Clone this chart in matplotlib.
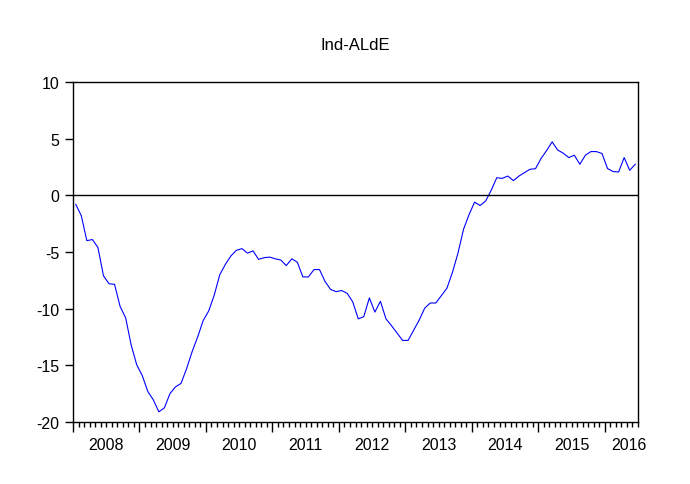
import matplotlib
matplotlib.use("Agg")
import matplotlib.pyplot as plt
import matplotlib.transforms as mtransforms
import numpy as np

plt.rcParams['font.family'] = ['Liberation Sans', 'DejaVu Sans']

# monthly series, Jan 2008 - Jun 2016
start_year = 2008
values = [
    -0.8, -1.8, -4.0, -3.9, -4.6, -7.1, -7.8, -7.85, -9.8, -10.8, -13.2, -14.95,
    -15.9, -17.3, -18.05, -19.1, -18.75, -17.5, -16.9, -16.6, -15.3, -13.8, -12.5, -11.05,
    -10.2, -8.8, -7.0, -6.1, -5.35, -4.85, -4.7, -5.1, -4.9, -5.65, -5.5, -5.45,
    -5.6, -5.7, -6.2, -5.6, -5.9, -7.2, -7.2, -6.55, -6.55, -7.6, -8.3, -8.5,
    -8.4, -8.65, -9.4, -10.9, -10.7, -9.05, -10.3, -9.35, -10.9, -11.5, -12.15, -12.8,
    -12.8, -11.9, -11.0, -9.95, -9.5, -9.5, -8.85, -8.2, -6.8, -5.1, -3.0, -1.7,
    -0.6, -0.9, -0.5, 0.45, 1.55, 1.5, 1.7, 1.3, 1.7, 2.0, 2.3, 2.35,
    3.25, 3.95, 4.72, 4.0, 3.72, 3.33, 3.54, 2.74, 3.54, 3.86, 3.86, 3.69,
    2.36, 2.1, 2.06, 3.33, 2.21, 2.74,
]
y_ticks = [-20, -15, -10, -5, 0, 5, 10]
title = "Ind-ALdE"

n = len(values)
months = np.arange(n) + 0.5
years = list(range(start_year, start_year + (n + 11) // 12))

fig = plt.figure(figsize=(6.9, 4.85), dpi=100)
ax = fig.add_axes([73 / 690, 1 - 423 / 485, 565 / 690, 340 / 485])

ax.plot(months, values, color='#0000ff', lw=0.8)
ax.axhline(0, color='black', lw=1)

ax.set_xlim(0, n)
ax.set_ylim(-20, 10)
ax.set_yticks(y_ticks)
ax.set_yticklabels([str(t) for t in y_ticks])

ax.set_xticks([12 * k for k in range(len(years))])
ax.set_xticklabels([])
ax.set_xticks(np.arange(n + 1), minor=True)
ax.tick_params(axis='x', which='major', length=7, width=1, direction='out')
ax.tick_params(axis='x', which='minor', length=3.5, width=1, direction='out')
ax.tick_params(axis='y', which='major', length=6, width=1, direction='out',
               labelsize=11.5, pad=4)

trans = mtransforms.blended_transform_factory(ax.transData, ax.transAxes)
for k, yr in enumerate(years):
    x0 = 12 * k
    x1 = min(12 * (k + 1), n)
    xc = (x0 + x1) / 2
    if x1 - x0 < 12:
        xc += 1.3
    ax.text(xc, -0.045, str(yr), transform=trans, ha='center', va='top',
            fontsize=11.5)

for s in ax.spines.values():
    s.set_linewidth(1)

ax.set_title(title, fontsize=12, pad=24)

fig.savefig('out.png', dpi=100)
